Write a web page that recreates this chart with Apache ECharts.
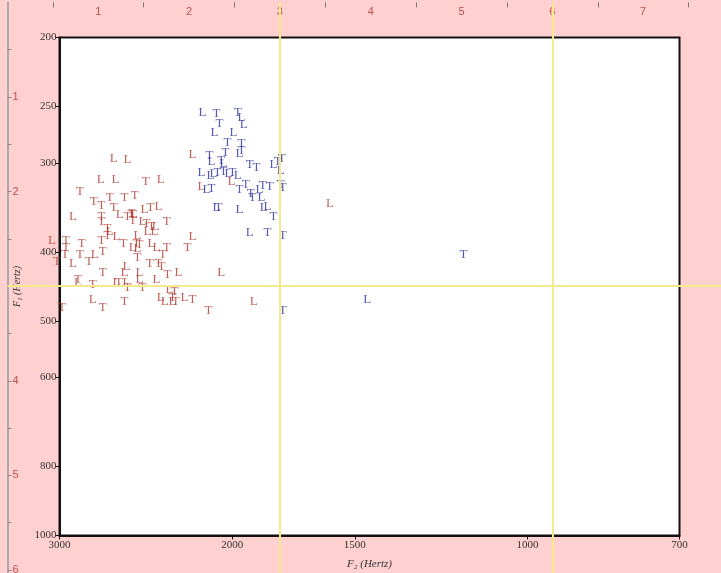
<!DOCTYPE html>
<html>
<head>
<meta charset="utf-8">
<title>F1 / F2</title>
<script src="https://cdn.jsdelivr.net/npm/echarts@6/dist/echarts.min.js"></script>
<style>
  html, body { margin: 0; padding: 0; background: #ffd0d0; }
  #chart { width: 721px; height: 573px; }
</style>
</head>
<body>
<div id="chart"></div>
<script>
// vowel tokens, [F2, F1] in Hz
const redL = [
  [2196, 292], [1590, 342], [2004, 319], [2150, 324], [2196, 380],
  [2642, 296], [2557, 297], [2724, 317], [2630, 317], [2366, 317],
  [2906, 357], [2605, 355], [2378, 345], [2457, 349], [2521, 355],
  [2469, 363], [2394, 369], [2667, 375], [3053, 386], [2624, 381],
  [2762, 403], [2906, 415], [2563, 420], [2575, 427], [2624, 441],
  [2563, 442], [2775, 467], [2498, 379], [2440, 375], [2400, 375],
  [2527, 394], [2417, 389], [2389, 394], [2269, 427], [2052, 427],
  [2486, 428], [2486, 438], [2389, 438], [2317, 452], [2366, 464],
  [2344, 470], [2301, 470], [2237, 464], [1902, 470], [2498, 395],
  [2873, 442]
];
const redT = [
  [2860, 329], [2768, 340], [2718, 344], [2667, 336], [2642, 347],
  [2575, 335], [2515, 333], [2557, 357], [2527, 355], [2718, 357],
  [2718, 362], [2533, 353], [2451, 319], [2423, 347], [2446, 365],
  [2417, 369], [2333, 363], [2527, 361], [2680, 371], [2680, 379],
  [2955, 386], [2955, 394], [2847, 389], [2718, 385], [2581, 389],
  [2504, 389], [2961, 404], [2860, 404], [2800, 413], [2711, 400],
  [3018, 413], [2711, 427], [2873, 438], [2775, 445], [2611, 442],
  [2557, 449], [2711, 479], [2575, 470], [2982, 479], [2486, 391],
  [2333, 394], [2355, 404], [2498, 407], [2428, 415], [2378, 415],
  [2361, 420], [2328, 431], [2222, 394], [2469, 449], [2290, 455],
  [2301, 463], [2284, 469], [2196, 467], [2115, 483]
];
const blueL = [
  [2145, 255], [1957, 259], [1947, 265], [2085, 272], [1994, 272],
  [1966, 291], [2100, 299], [2042, 301], [1815, 302], [1785, 307],
  [2150, 309], [2105, 312], [2090, 310], [2018, 310], [1975, 312],
  [2125, 327], [1876, 327], [1867, 335], [1858, 347], [1841, 345],
  [2076, 347], [1966, 349], [1920, 376], [1457, 467]
];
const blueT = [
  [2076, 256], [1975, 255], [2061, 264], [2023, 281], [1957, 282],
  [2032, 290], [1957, 288], [2110, 293], [2052, 298], [1920, 302],
  [1889, 305], [1798, 299], [1781, 296], [2071, 309], [2042, 308],
  [1999, 309], [2100, 326], [1966, 327], [1938, 322], [1907, 335],
  [1915, 331], [1862, 323], [1832, 324], [1785, 322], [1777, 325],
  [1815, 357], [2066, 347], [1841, 376], [1777, 379], [1162, 403],
  [1777, 483]
];

const f2Ticks = [3000, 2000, 1500, 1000, 700];
const f1Ticks = [200, 250, 300, 400, 500, 600, 800, 1000];

// ruler round the page (inches) and its guide lines
const rulerTopLabels = [1, 2, 3, 4, 5, 6, 7];
const rulerTopTicks = [0.5, 1.5, 2.5, 3.5, 4.5, 5.5, 6.5, 7.5];
const rulerLeftLabels = [1, 2, 4, 5, 6];
const rulerLeftTicks = [0.5, 1, 1.5, 2, 2.5, 3, 3.5, 4, 4.5, 5, 5.5, 6];
const guideX = [3, 6];
const guideY = [3];

const RED = '#b03a30';
const BLUE = '#2e2ea0';
const SERIF = 'Liberation Serif, DejaVu Serif, serif';

function letterSeries(name, data, letter, color) {
  return {
    name: name,
    type: 'scatter',
    xAxisIndex: 0,
    yAxisIndex: 0,
    data: data,
    symbol: 'circle',
    symbolSize: 1,
    clip: false,
    silent: true,
    itemStyle: { color: 'rgba(0,0,0,0)' },
    label: {
      show: true,
      position: 'inside',
      formatter: letter,
      color: color,
      fontFamily: SERIF,
      fontSize: 13,
    },
  };
}

const plainNumber = (v) => String(Math.round(v));

const myChart = echarts.init(document.getElementById('chart'));
let option = {
  backgroundColor: '#ffd0d0',
  animation: false,
  grid: [
    {
      left: 59.5, top: 37.5, right: 41.5, bottom: 37.5,
      show: true,
      backgroundColor: '#ffffff',
      borderColor: '#111',
      borderWidth: 2,
      outerBoundsMode: 'none',
    },
    {
      left: 7.5, top: 2.4, right: 0, bottom: 0,
      outerBoundsMode: 'none',
    },
  ],
  xAxis: [
    {
      gridIndex: 0,
      type: 'log',
      logBase: 10,
      min: 700,
      max: 3000,
      inverse: true,
      position: 'bottom',
      name: 'F\u2082 (Hertz)',
      nameLocation: 'middle',
      nameGap: 23,
      nameTextStyle: { fontFamily: SERIF, fontStyle: 'italic', fontSize: 11, color: '#333' },
      axisLine: { lineStyle: { color: '#111', width: 2 } },
      axisTick: { length: 4, lineStyle: { color: '#111' }, customValues: f2Ticks },
      axisLabel: { customValues: f2Ticks, formatter: plainNumber, margin: 4, fontFamily: SERIF, fontSize: 11, color: '#333' },
      splitLine: { show: false },
      minorTick: { show: false },
    },
    {
      gridIndex: 1,
      type: 'value',
      min: 0,
      max: 7.857,
      position: 'top',
      axisLine: { show: false },
      axisTick: { inside: true, length: 5, lineStyle: { color: '#777' }, customValues: rulerTopTicks },
      axisLabel: { inside: true, margin: 4, customValues: rulerTopLabels, color: '#c0504d', fontFamily: 'Liberation Sans', fontSize: 11 },
      splitLine: { show: false },
    },
  ],
  yAxis: [
    {
      gridIndex: 0,
      type: 'log',
      logBase: 10,
      min: 200,
      max: 1000,
      inverse: true,
      name: 'F\u2081 (Hertz)',
      nameLocation: 'middle',
      nameGap: 37,
      nameTextStyle: { fontFamily: SERIF, fontStyle: 'italic', fontSize: 10, color: '#333' },
      axisLine: { lineStyle: { color: '#111', width: 2 } },
      axisTick: { length: 4, lineStyle: { color: '#111' }, customValues: f1Ticks },
      axisLabel: { customValues: f1Ticks, formatter: plainNumber, margin: 3, fontFamily: SERIF, fontSize: 11, color: '#333' },
      splitLine: { show: false },
      minorTick: { show: false },
    },
    {
      gridIndex: 1,
      type: 'value',
      min: 0,
      max: 6.032,
      inverse: true,
      position: 'left',
      axisLine: { show: true, lineStyle: { color: '#aaa', width: 2 } },
      axisTick: { inside: true, length: 4, lineStyle: { color: '#a08080' }, customValues: rulerLeftTicks },
      axisLabel: { inside: true, margin: 5, customValues: rulerLeftLabels, color: '#c0504d', fontFamily: 'Liberation Sans', fontSize: 11 },
      splitLine: { show: false },
    },
  ],
  series: [
    letterSeries('red L', redL, 'L', RED),
    letterSeries('red T', redT, 'T', RED),
    letterSeries('blue L', blueL, 'L', BLUE),
    letterSeries('blue T', blueT, 'T', BLUE),
    {
      // yellow guide lines from the ruler
      type: 'line',
      xAxisIndex: 1,
      yAxisIndex: 1,
      data: [],
      silent: true,
      markLine: {
        silent: true,
        symbol: 'none',
        label: { show: false },
        lineStyle: { color: '#f2ea8c', width: 2, type: 'solid' },
        data: guideX.map((v) => ({ xAxis: v })).concat(guideY.map((v) => ({ yAxis: v }))),
      },
    },
  ],
};
option && myChart.setOption(option);
window.addEventListener('resize', () => {
  myChart.resize();
});
</script>
</body>
</html>
